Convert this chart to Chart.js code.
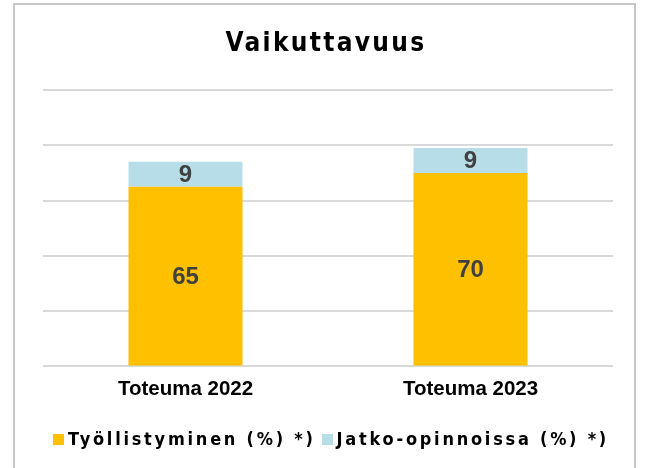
<!DOCTYPE html>
<html>
<head>
<meta charset="utf-8">
<script src="https://cdn.jsdelivr.net/npm/chart.js@4/dist/chart.umd.min.js"></script>
<style>
    html, body { margin: 0; padding: 0; background: #fff; }
    #wrap { position: relative; width: 646px; height: 468px; overflow: hidden; }
    #frame {
        position: absolute; left: 13px; top: 3px; width: 623px; height: 500px;
        border: 2px solid #c6c6c6; box-sizing: border-box;
    }
    #chart { position: absolute; left: 0; top: 0; }
    #title {
        position: absolute; left: 0; top: 29px; width: 646px; text-align: center;
        font-family: "Liberation Sans Narrow", "DejaVu Sans Condensed", "Liberation Sans", sans-serif;
        font-weight: bold; font-size: 26px; line-height: 26px; letter-spacing: 2.3px;
        padding-left: 6px; box-sizing: border-box; color: #000;
    }
    #legend {
        position: absolute; left: 53px; top: 430px; display: flex; align-items: center;
        font-family: "Liberation Sans Narrow", "DejaVu Sans Condensed", "Liberation Sans", sans-serif;
        font-weight: bold; font-size: 18px; line-height: 18px; letter-spacing: 2.75px; color: #000;
        white-space: nowrap;
    }
    .sw { display: inline-block; width: 11px; height: 11px; margin-right: 4px; }
    .item { display: flex; align-items: center; margin-right: 6px; }
</style>
</head>
<body>
<div id="wrap">
    <div id="frame"></div>
    <canvas id="chart" width="646" height="468"></canvas>
    <div id="title"></div>
    <div id="legend"></div>
</div>
<script>
// Chart data
const titleText = 'Vaikuttavuus';
const categories = ['Toteuma 2022', 'Toteuma 2023'];
const seriesNames = ['Työllistyminen (%) *)', 'Jatko-opinnoissa (%) *)'];
const employed = [65, 70];
const furtherStudies = [9, 9];
const seriesColors = ['#FFC000', '#B7DDE8'];
const yMin = 0;
const yMax = 100;
const yStep = 20;

document.getElementById('title').textContent = titleText;

// Legend (html, so letter spacing works)
const legendEl = document.getElementById('legend');
seriesNames.forEach((name, i) => {
    const item = document.createElement('span');
    item.className = 'item';
    item.innerHTML = `<span class="sw" style="background:${seriesColors[i]}"></span><span>${name}</span>`;
    legendEl.appendChild(item);
});

// Value labels in the middle of each bar segment
const barLabels = {
    id: 'barLabels',
    afterDatasetsDraw(chart) {
        const ctx = chart.ctx;
        ctx.save();
        ctx.font = 'bold 24px "Liberation Sans", Arial, sans-serif';
        ctx.fillStyle = '#404040';
        ctx.textAlign = 'center';
        ctx.textBaseline = 'middle';
        chart.data.datasets.forEach((ds, i) => {
            chart.getDatasetMeta(i).data.forEach((bar, j) => {
                const y = (bar.y + bar.base) / 2;
                ctx.fillText(ds.data[j], bar.x, y + 1);
            });
        });
        ctx.restore();
    }
};

new Chart(document.getElementById('chart'), {
    type: 'bar',
    data: {
        labels: categories,
        datasets: [
            {
                label: seriesNames[0],
                data: employed,
                backgroundColor: seriesColors[0],
                borderWidth: 0,
                barPercentage: 0.4,
                categoryPercentage: 1
            },
            {
                label: seriesNames[1],
                data: furtherStudies,
                backgroundColor: seriesColors[1],
                borderWidth: 0,
                barPercentage: 0.4,
                categoryPercentage: 1
            }
        ]
    },
    options: {
        responsive: false,
        animation: false,
        layout: {
            padding: { top: 90, left: 43, right: 33, bottom: 55 }
        },
        plugins: {
            legend: { display: false },
            title: { display: false },
            tooltip: { enabled: false }
        },
        scales: {
            x: {
                stacked: true,
                grid: { display: false, drawTicks: false },
                border: { display: false },
                ticks: {
                    color: '#000',
                    padding: 11,
                    font: { family: '"Liberation Sans", Arial, sans-serif', size: 20.5, weight: 'bold' }
                }
            },
            y: {
                stacked: true,
                min: yMin,
                max: yMax,
                grid: { color: '#d9d9d9', lineWidth: 2, drawTicks: false },
                border: { display: false },
                ticks: { display: false, stepSize: yStep }
            }
        }
    },
    plugins: [barLabels]
});
</script>
</body>
</html>
